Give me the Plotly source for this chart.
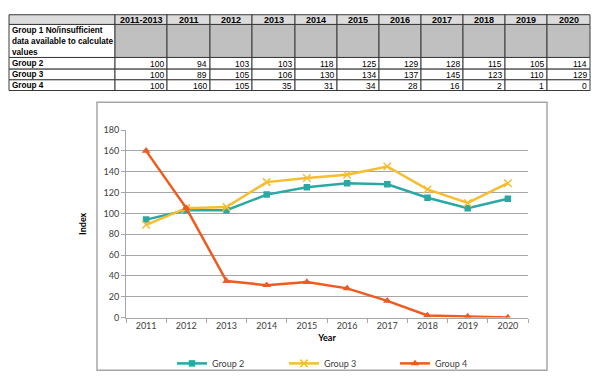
import plotly.graph_objects as go

W, H = 609, 384

years = ['2011', '2012', '2013', '2014', '2015', '2016', '2017', '2018', '2019', '2020']
group2 = [94, 103, 103, 118, 125, 129, 128, 115, 105, 114]
group3 = [89, 105, 106, 130, 134, 137, 145, 123, 110, 129]
group4 = [160, 105, 35, 31, 34, 28, 16, 2, 1, 0]
base_col_label = '2011-2013'
base_values = [100, 100, 100]
row_labels = ['Group 1 No/insufficient<br>data available to calculate<br>values', 'Group 2', 'Group 3', 'Group 4']

series_names = ['Group 2', 'Group 3', 'Group 4']
series_values = [group2, group3, group4]
colors = ['#2aa8a4', '#f7bd2f', '#ef5a1e']
symbols = ['square', 'x-thin', 'triangle-up']


def px(x):
    return x / W


def py(y):
    return 1 - y / H


fig = go.Figure()

# ---- table (layout grid in pixels) ----
col_edges = [9, 115, 167, 210, 252, 295, 337, 379, 421, 463, 505, 547, 590]
row_edges = [9, 19, 53, 65, 76, 87]
header_vals = [''] + [base_col_label] + years
body = [[''] * 11,
        [base_values[0]] + group2,
        [base_values[1]] + group3,
        [base_values[2]] + group4]

shapes = []
annotations = []
lfont = dict(family='Liberation Sans', size=8.2, color='black')
hfont = dict(family='Liberation Sans', size=9, color='black')
nfont = dict(family='Liberation Sans', size=8.5, color='black')

# header row
for c in range(len(header_vals)):
    x0, x1 = col_edges[c], col_edges[c + 1]
    y0, y1 = row_edges[0], row_edges[1]
    shapes.append(dict(type='rect', xref='paper', yref='paper', x0=px(x0), x1=px(x1), y0=py(y1), y1=py(y0),
                       fillcolor='#dcdcdc', line=dict(color='#3a3a3a', width=1), layer='above'))
    if header_vals[c]:
        annotations.append(dict(xref='paper', yref='paper', x=px((x0 + x1) / 2), y=py((y0 + y1) / 2 + 0.5),
                                text=f'<b>{header_vals[c]}</b>', showarrow=False, xanchor='center',
                                yanchor='middle', font=hfont))

# body rows
for r in range(4):
    y0, y1 = row_edges[r + 1], row_edges[r + 2]
    shapes.append(dict(type='rect', xref='paper', yref='paper', x0=px(col_edges[0]), x1=px(col_edges[1]),
                       y0=py(y1), y1=py(y0), fillcolor='white', line=dict(color='#3a3a3a', width=1),
                       layer='above'))
    lines = row_labels[r].split('<br>')
    n = len(lines)
    lh = (y1 - y0) / n
    for i, ln in enumerate(lines):
        annotations.append(dict(xref='paper', yref='paper', x=px(col_edges[0] + 0.5), y=py(y0 + lh * (i + 0.5) + 0.5),
                                text=f'<b>{ln}</b>', showarrow=False, xanchor='left', yanchor='middle',
                                font=lfont))
    for c in range(11):
        x0, x1 = col_edges[c + 1], col_edges[c + 2]
        v = body[r][c]
        fill = '#c0c0c0' if r == 0 else 'white'
        shapes.append(dict(type='rect', xref='paper', yref='paper', x0=px(x0), x1=px(x1), y0=py(y1), y1=py(y0),
                           fillcolor=fill, line=dict(color='#3a3a3a', width=1), layer='above'))
        if v != '':
            annotations.append(dict(xref='paper', yref='paper', x=px(x1 - 1), y=py((y0 + y1) / 2 + 0.5),
                                    text=str(v), showarrow=False, xanchor='right', yanchor='middle',
                                    font=nfont))

# chart frame
shapes.append(dict(type='rect', xref='paper', yref='paper',
                   x0=px(97), x1=px(547), y0=py(375), y1=py(99),
                   line=dict(color='#a6a6a6', width=1.5), fillcolor='rgba(0,0,0,0)', layer='below'))

# ---- chart ----
legend_ids = ['legend', 'legend2', 'legend3']
legend_x = [172, 284, 395]
for name, vals, c, s, lid in zip(series_names, series_values, colors, symbols, legend_ids):
    marker = dict(symbol=s, size=6.5 if s == 'square' else 7.5, color=c)
    if s == 'x-thin':
        marker['line'] = dict(color=c, width=1.5)
    fig.add_trace(go.Scatter(
        x=years, y=vals, name=name, mode='lines+markers',
        line=dict(color=c, width=2.5),
        marker=marker, legend=lid,
    ))

tickfont = dict(family='Lato', size=9, color='#404040')
legfont = dict(family='Lato', size=9, color='#404040')
legends = {}
for lid, lx in zip(legend_ids, legend_x):
    legends[lid] = dict(orientation='h', x=px(lx), y=py(353), xanchor='left', yanchor='top',
                        font=legfont, bgcolor='rgba(0,0,0,0)')

fig.update_layout(
    width=W, height=H,
    margin=dict(l=0, r=0, t=0, b=0),
    paper_bgcolor='white', plot_bgcolor='white',
    xaxis=dict(domain=[px(126), px(528)], type='category',
               range=[-0.5, 9.5], showgrid=False,
               showline=True, linecolor='#a6a6a6', linewidth=1,
               ticks='outside', ticklen=4, tickcolor='#a6a6a6', tickson='boundaries',
               tickfont=tickfont,
               title=dict(text='<b>Year</b>', font=dict(family='Lato', size=9, color='black'), standoff=4)),
    yaxis=dict(domain=[py(320.7), py(127.7)], range=[0, 180], dtick=20,
               showgrid=True, gridcolor='#a6a6a6', gridwidth=1,
               showline=True, linecolor='#a6a6a6', linewidth=1,
               ticks='outside', ticklen=4, tickcolor='#a6a6a6',
               tickfont=tickfont, zeroline=False,
               title=dict(text='<b>Index</b>', font=dict(family='Lato', size=9, color='black'), standoff=15)),
    showlegend=True,
    shapes=shapes,
    annotations=annotations,
    **legends,
)

fig.write_html('out.html', config={'displayModeBar': False},
               post_script="document.body.style.margin='0';")
